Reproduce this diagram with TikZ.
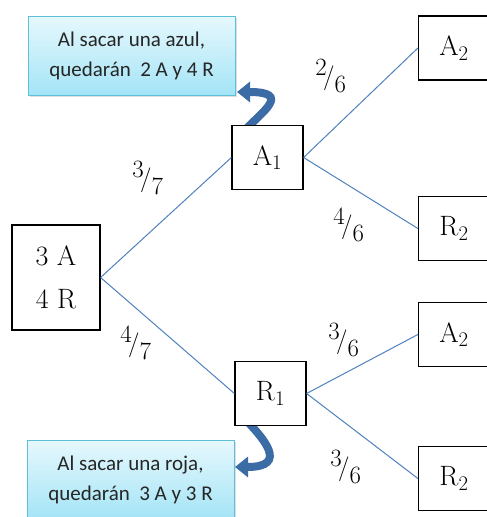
\documentclass[tikz,border=0pt]{standalone}
\usepackage{fontspec}
\usepackage{tikz}
\usetikzlibrary{arrows.meta,shadows}
\newfontfamily\notefont{Carlito}
\definecolor{edge}{HTML}{4F81BD}
\definecolor{notetop}{HTML}{E6F8FD}
\definecolor{notebot}{HTML}{A4E4F6}
\definecolor{noteline}{HTML}{5DBFDA}
\definecolor{bend}{HTML}{3C6CA6}
\tikzset{
  state/.style={draw=black, fill=white, line width=1.2pt, minimum width=71pt, minimum height=64pt, inner sep=0pt, font=\fontsize{28}{43}\selectfont, align=center},
  link/.style={draw=edge, line width=1pt},
  prob/.style={inner sep=0pt, font=\fontsize{34}{36}\selectfont},
  note/.style={draw=noteline, line width=0.9pt, top color=notetop, bottom color=notebot, minimum width=207pt, minimum height=79pt, align=center, text=black!85, font=\notefont\fontsize{21}{30}\selectfont, drop shadow={opacity=0.25, shadow xshift=1.5pt, shadow yshift=-1.5pt}},
  turn/.style={draw=bend, line width=8pt, -{Triangle[length=13pt,width=20pt]}},
}
\begin{document}
\begin{tikzpicture}[x=1pt,y=-1pt]
  \useasboundingbox (0,0) rectangle (487,517);
  % notes
  \node[note] (noteA) at (131.5,55.5) {Al sacar una azul,\\quedarán\ \ 2 A y 4 R};
  \node[note] (noteR) at (130.5,479.5) {Al sacar una roja,\\quedarán\ \ 3 A y 3 R};
  % bent arrows
  \draw[turn] (245,130) .. controls (262,112) and (292,92) .. (237,92);
  \draw[turn] (246,420) .. controls (262,437) and (290,467) .. (235,467);
  % tree
  \node[state, minimum width=88pt, minimum height=105pt] (root) at (56,277.5) {3 A\\4 R};
  \node[state] (a1) at (267.5,157.5) {A$_1$};
  \node[state] (r1) at (270.5,393.5) {R$_1$};
  \node[state] (aa) at (454,48) {A$_2$};
  \node[state] (ar) at (454,228.5) {R$_2$};
  \node[state] (ra) at (454,334.5) {A$_2$};
  \node[state] (rr) at (454,478.5) {R$_2$};
  \draw[link] (root.east) -- (a1.west);
  \draw[link] (root.east) -- (r1.west);
  \draw[link] (a1.east) -- (aa.west);
  \draw[link] (a1.east) -- (ar.west);
  \draw[link] (r1.east) -- (ra.west);
  \draw[link] (r1.east) -- (rr.west);
  % probabilities
  \node[prob] (p37) at (148,178) {$^{3}\!/_{7}$};
  \node[prob] (p47) at (136,343) {$^{4}\!/_{7}$};
  \node[prob] (p26) at (331,76) {$^{2}\!/_{6}$};
  \node[prob] (p46) at (349,225) {$^{4}\!/_{6}$};
  \node[prob] (p36a) at (344,340) {$^{3}\!/_{6}$};
  \node[prob] (p36b) at (346,467) {$^{3}\!/_{6}$};
\end{tikzpicture}
\end{document}
